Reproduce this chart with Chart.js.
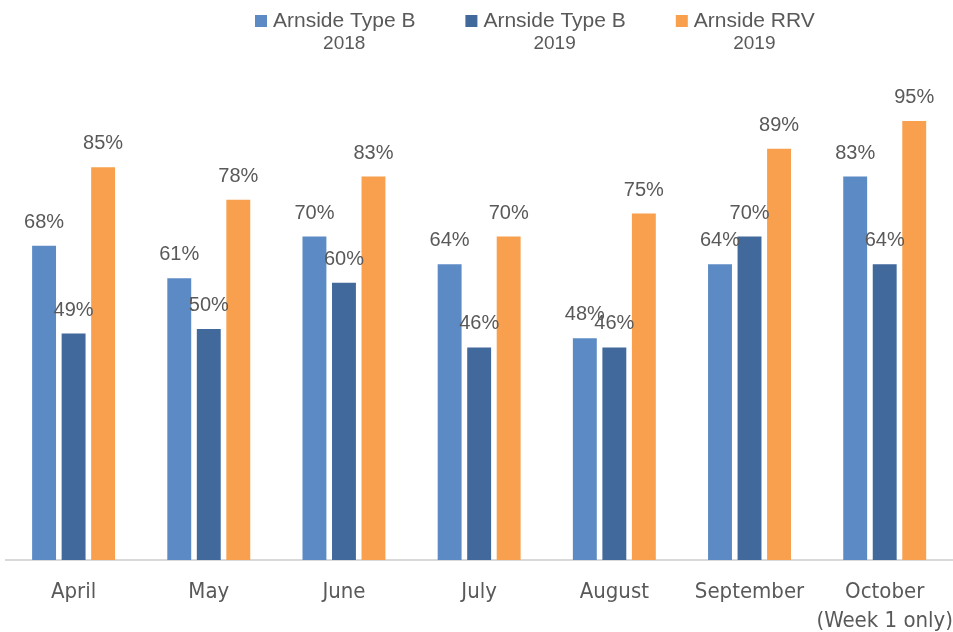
<!DOCTYPE html>
<html>
<head>
<meta charset="utf-8">
<script src="https://cdn.jsdelivr.net/npm/chart.js@4"></script>
<style>
  html, body { margin: 0; padding: 0; background: #fff; }
  #wrap { width: 953px; height: 632px; position: relative; }
</style>
</head>
<body>
<div id="wrap"><canvas id="bar-chart"></canvas></div>
<script>
const months = ["April", "May", "June", "July", "August", "September", ["October", "(Week 1 only)"]];
const typeB2018 = [68, 61, 70, 64, 48, 64, 83];
const typeB2019 = [49, 50, 60, 46, 46, 70, 64];
const rrv2019 = [85, 78, 83, 70, 75, 89, 95];
const seriesNames = [["Arnside Type B", "2018"], ["Arnside Type B", "2019"], ["Arnside RRV", "2019"]];
const seriesColours = ["#5B8AC5", "#41699C", "#F8A04D"];

const textColour = "#595959";
const fontFamily = '"Liberation Sans", Arial, sans-serif';

// value labels above each bar
const valueLabels = {
    id: "valueLabels",
    afterDatasetsDraw(chart) {
        const ctx = chart.ctx;
        ctx.save();
        ctx.font = "20px " + fontFamily;
        ctx.fillStyle = textColour;
        ctx.textAlign = "center";
        ctx.textBaseline = "alphabetic";
        chart.data.datasets.forEach((dataset, i) => {
            chart.getDatasetMeta(i).data.forEach((bar, j) => {
                ctx.fillText(dataset.data[j] + "%", bar.x, bar.y - 18);
            });
        });
        ctx.restore();
    }
};

// two-line legend at the top
const topLegend = {
    id: "topLegend",
    afterDraw(chart) {
        const ctx = chart.ctx;
        ctx.save();
        const gap = 50, box = 12, boxGap = 6;
        let x = 255;
        seriesNames.forEach((name, i) => {
            ctx.font = "21px " + fontFamily;
            const w = ctx.measureText(name[0]).width;
            ctx.fillStyle = seriesColours[i];
            ctx.fillRect(x, 15, box, box);
            const tx = x + box + boxGap;
            ctx.fillStyle = textColour;
            ctx.textAlign = "left";
            ctx.textBaseline = "middle";
            ctx.fillText(name[0], tx, 21);
            ctx.textAlign = "center";
            ctx.font = "19px " + fontFamily;
            ctx.fillText(name[1], tx + w / 2, 44);
            x = tx + w + gap;
        });
        ctx.restore();
    }
};

const datasets = [typeB2018, typeB2019, rrv2019].map((values, i) => ({
    label: seriesNames[i].join(" "),
    data: values,
    backgroundColor: seriesColours[i],
    categoryPercentage: 0.655,
    barPercentage: 0.81
}));

let barChart = new Chart(
    document.getElementById("bar-chart"),
    {
        type: "bar",
        data: { labels: months, datasets: datasets },
        options: {
            responsive: true,
            maintainAspectRatio: false,
            animation: false,
            layout: { padding: { top: 98, left: 6, right: 0, bottom: 0 } },
            scales: {
                x: {
                    grid: {
                        drawOnChartArea: false,
                        color: "rgba(0,0,0,0)",
                        drawTicks: true,
                        tickLength: 18
                    },
                    border: { color: "#D9D9D9", width: 2 },
                    ticks: {
                        color: textColour,
                        padding: 0,
                        autoSkip: false,
                        font: { family: '"Liberation Sans Narrow", "DejaVu Sans Condensed", sans-serif', size: 22, lineHeight: 1.32 },
                        maxRotation: 0
                    },
                    afterFit(scale) { scale.height = 72; }
                },
                y: {
                    display: false,
                    min: 0,
                    max: 100
                }
            },
            plugins: {
                legend: { display: false },
                tooltip: { enabled: false }
            }
        },
        plugins: [valueLabels, topLegend]
    }
);
</script>
</body>
</html>
